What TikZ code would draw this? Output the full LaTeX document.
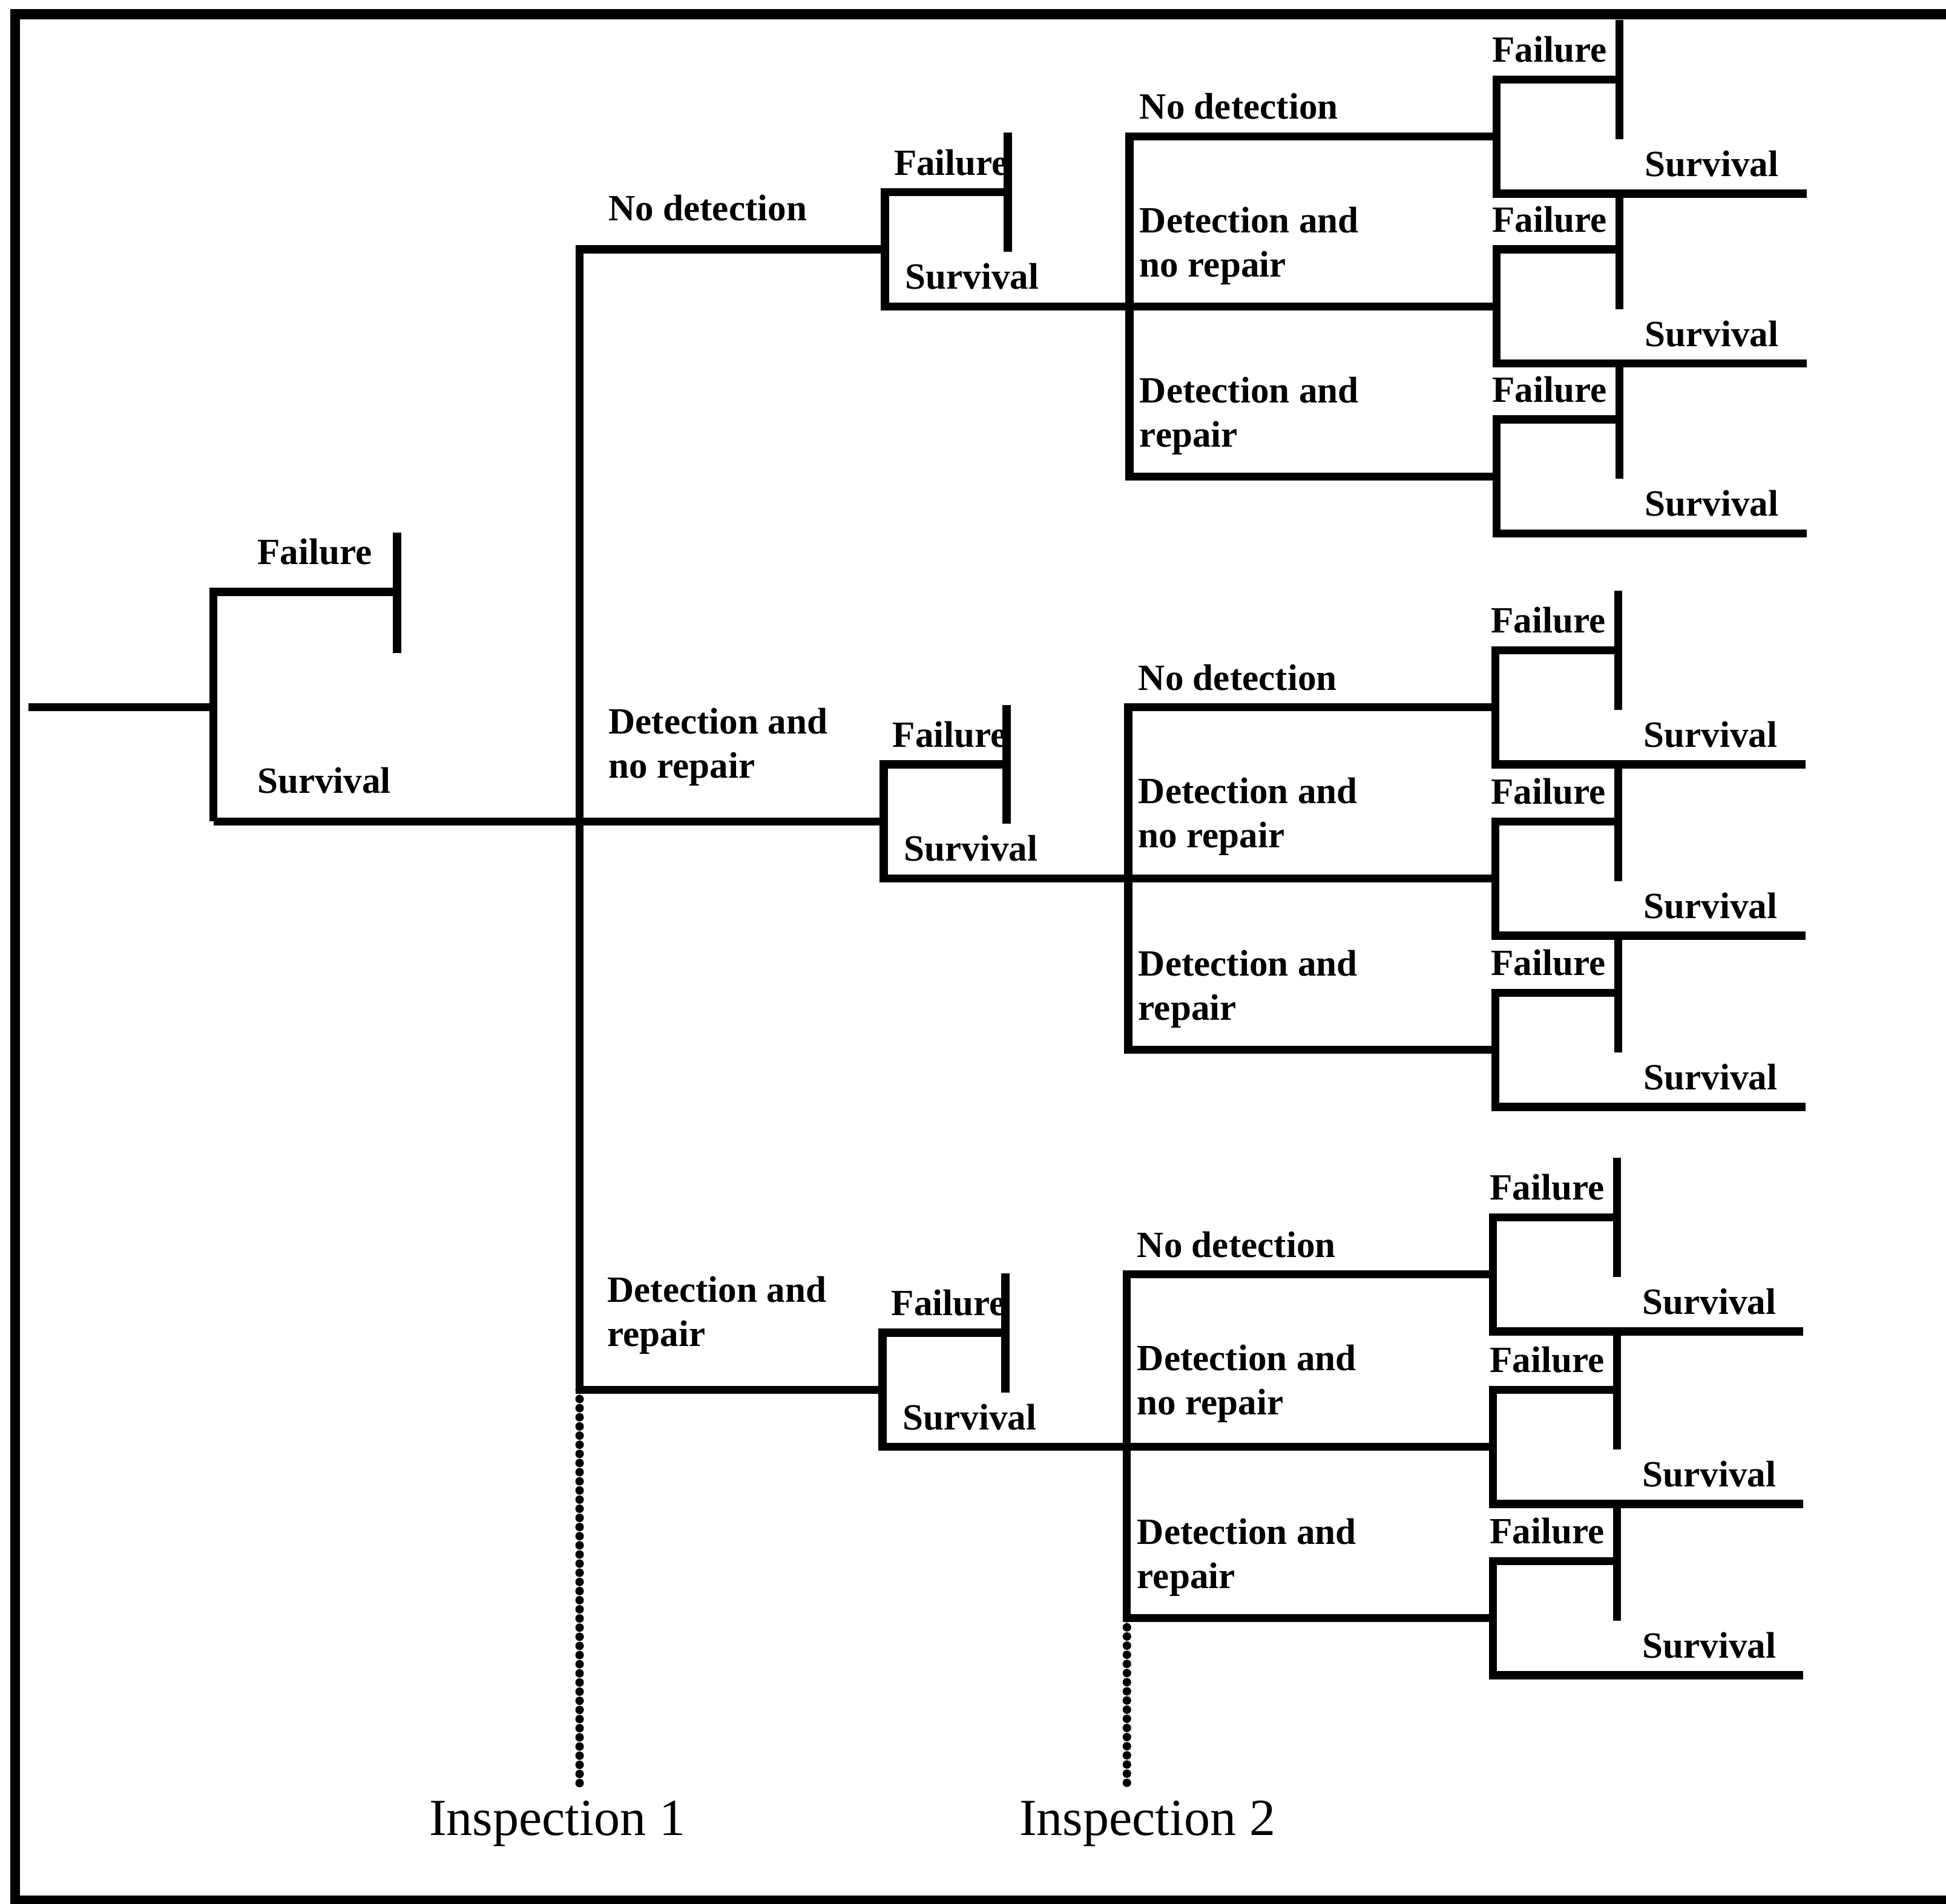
\documentclass[tikz,border=0pt]{standalone}
\usepackage{fontspec}
\setmainfont{Liberation Serif}
\begin{document}
\begin{tikzpicture}[x=0.020504cm, y=-0.020504cm, line join=miter,
  edge/.style={line width=3.8pt},
  borderline/.style={line width=0.165cm},
  insline/.style={line width=4pt, line cap=round, dash pattern=on 0pt off 4.3pt},
  lab/.style={anchor=base west, inner sep=0pt, font=\fontsize{17.4}{20.7}\selectfont\bfseries},
  inslab/.style={anchor=base, inner sep=0pt, font=\fontsize{24.5}{29}\selectfont},
]
\useasboundingbox (0,0) rectangle (1568,1534);

% open frame: top, left and bottom rules
\coordinate (fr-tr) at (1600,11.5);
\coordinate (fr-tl) at (12.2,11.5);
\coordinate (fr-bl) at (12.2,1531.5);
\coordinate (fr-br) at (1600,1531.5);
\draw[borderline] (fr-tr) -- (fr-tl) -- (fr-bl) -- (fr-br);

% first stage: failure / survival
\coordinate (root) at (23,570);
\coordinate (n0) at (172,570);
\coordinate (n0f) at (172,477);
\coordinate (n0s) at (172,662);
\coordinate (f0) at (320,477);
\coordinate (f0t) at (320,429);
\coordinate (f0b) at (320,526);
\draw[edge] (root) -- (n0);
\draw[edge] (f0) -- (n0f) -- (n0s);
\draw[edge] (f0t) -- (f0b);
\node[lab] (fail-0) at (207,455) {Failure};
\node[lab] (surv-0) at (207,639) {Survival};

% inspection 1
\coordinate (i1a) at (467,201);
\coordinate (i1b) at (467,662);
\coordinate (i1c) at (467,1120);
\coordinate (i1e) at (467,1443);

% failure / survival forks: name / fork x / branch y / bar x / end x / label x's
\foreach \nm/\x/\b/\bx/\ex/\fx/\sx in {
   a/713/201/812/910/720/729,
   b/712/662/811/909/719/728,
   c/711/1120/810/908/718/727,
   aa/1206/110/1305/1456/1202/1325,
   ab/1206/247/1305/1456/1202/1325,
   ac/1206/384/1305/1456/1202/1325,
   ba/1205/570/1304/1455/1201/1324,
   bb/1205/708/1304/1455/1201/1324,
   bc/1205/846/1304/1455/1201/1324,
   ca/1203/1027/1303/1453/1200/1323,
   cb/1203/1166/1303/1453/1200/1323,
   cc/1203/1304/1303/1453/1200/1323}{
  \coordinate (k-\nm) at (\x,\b);
  \coordinate (kf-\nm) at (\x,\b-46);
  \coordinate (ks-\nm) at (\x,\b+46);
  \coordinate (bar-\nm) at (\bx,\b-46);
  \coordinate (bart-\nm) at (\bx,\b-94);
  \coordinate (barb-\nm) at (\bx,\b+2);
  \coordinate (end-\nm) at (\ex,\b+46);
  \draw[edge] (bar-\nm) -- (kf-\nm) -- (ks-\nm) -- (end-\nm);
  \draw[edge] (bart-\nm) -- (barb-\nm);
  \node[lab] (fail-\nm) at (\fx,\b-60) {Failure};
  \node[lab] (surv-\nm) at (\sx,\b+32) {Survival};
}

% inspection 1 branches
\draw[edge] (n0s) -- (i1b) -- (k-b);
\draw[edge] (k-a) -- (i1a) -- (i1c) -- (k-c);
\draw[insline] (i1c) -- (i1e);
\node[lab] (nd-1) at (490,178) {No detection};
\node[lab] (dn-1) at (490,627) {\begin{tabular}[b]{@{}l@{}}Detection and\\no repair\end{tabular}};
\node[lab] (dr-1) at (489,1085) {\begin{tabular}[b]{@{}l@{}}Detection and\\repair\end{tabular}};
\node[inslab] (ins-1) at (449,1479) {Inspection 1};

% inspection 2 branches
\foreach \g/\x/\ya/\yc/\lx in {a/910/110/384/918, b/909/570/846/917, c/908/1027/1304/916}{
  \coordinate (i2t-\g) at (\x,\ya);
  \coordinate (i2b-\g) at (\x,\yc);
  \draw[edge] (k-\g a) -- (i2t-\g) -- (i2b-\g) -- (k-\g c);
  \draw[edge] (end-\g) -- (k-\g b);
  \node[lab] (nd-\g) at (\lx,\ya-14) {No detection};
  \node[lab] (dn-\g) at (\lx,\ya+113) {\begin{tabular}[b]{@{}l@{}}Detection and\\no repair\end{tabular}};
  \node[lab] (dr-\g) at (\lx,\yc-24) {\begin{tabular}[b]{@{}l@{}}Detection and\\repair\end{tabular}};
}
\coordinate (i2e) at (908,1443);
\draw[insline] (i2b-c) -- (i2e);
\node[inslab] (ins-2) at (924.5,1479) {Inspection 2};
\end{tikzpicture}
\end{document}
